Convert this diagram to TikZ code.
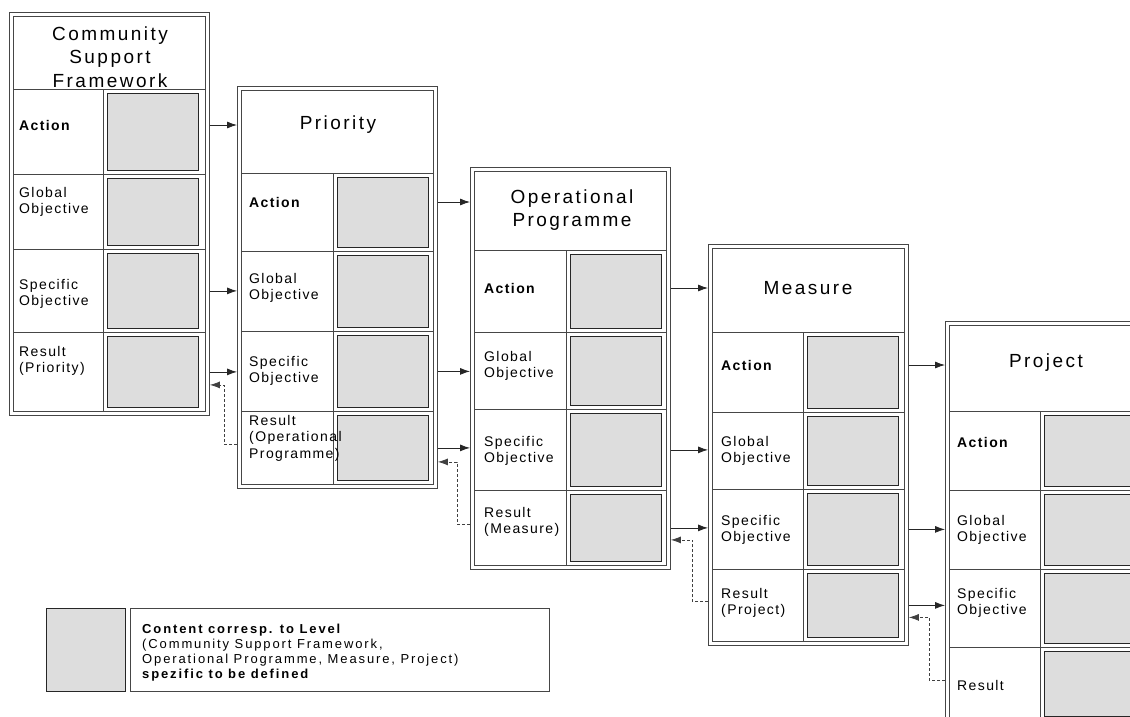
\documentclass[tikz,border=0pt]{standalone}
\usepackage{fontspec}
\setmainfont{Liberation Sans}
\newfontfamily\titlefont[LetterSpace=13]{Liberation Sans}
\newfontfamily\labelfont[LetterSpace=10]{Liberation Sans}
\newfontfamily\legendfont[LetterSpace=14.5]{Liberation Sans}
\usetikzlibrary{arrows.meta,calc}

\definecolor{cellgrey}{RGB}{221,221,221}
\definecolor{framegrey}{RGB}{70,70,70}

\tikzset{
  frameline/.style={draw=framegrey, line width=0.9pt},
  outerframe/.style={frameline, rectangle, inner sep=0pt, minimum width=200pt, anchor=north west},
  cell/.style={rectangle, draw=black!85, line width=0.8pt, fill=cellgrey, inner sep=0pt,
    minimum width=91pt, anchor=north west},
  leveltitle/.style={inner sep=0pt, align=center, font=\titlefont\fontsize{19}{23.5}\selectfont},
  rowlabel/.style={inner sep=0pt, anchor=west, align=left, font=\labelfont\fontsize{14}{16.5}\selectfont},
  flow/.style={draw=black!85, line width=0.8pt, -{Latex[length=10pt,width=7pt]}},
  back/.style={draw=black!75, line width=0.7pt, dash pattern=on 3pt off 2pt,
    -{Latex[length=10pt,width=7pt]}},
}

% #1 name, #2 left x, #3 top y, #4 bottom y, #5 header rule y,
% #6 #7 #8 row rules y, #9 column rule x
\newcommand\levelframe[9]{%
  \node[outerframe, minimum height={(#4)-(#3)}] (#1) at (#2,#3) {};
  \draw[frameline] ($(#1.north west)+(4,4)$) rectangle ($(#1.south east)+(-4,-4)$);
  \draw[frameline] (#2+4,#5) -- (#2+196,#5);
  \draw[frameline] (#2+4,#6) -- (#2+196,#6);
  \draw[frameline] (#2+4,#7) -- (#2+196,#7);
  \draw[frameline] (#2+4,#8) -- (#2+196,#8);
  \draw[frameline] (#9,#5) -- (#9,#4-4);
  \node[cell, minimum height={(#6)-(#5)-8}] (#1-a) at (#9+4,#5+4) {};
  \node[cell, minimum height={(#7)-(#6)-8}] (#1-g) at (#9+4,#6+4) {};
  \node[cell, minimum height={(#8)-(#7)-8}] (#1-s) at (#9+4,#7+4) {};
  \node[cell, minimum height={(#4)-(#8)-12}] (#1-r) at (#9+4,#8+4) {};
}

\begin{document}
\begin{tikzpicture}[x=1pt, y=-1pt]
\useasboundingbox (0,0) rectangle (1130,716);
\clip (0,0) rectangle (1130,716);

% the five planning levels
\levelframe{csf}{9}{12}{415}{89}{174}{249}{332}{103}
\levelframe{pri}{237}{86}{488}{173}{251}{331}{411}{333}
\levelframe{op}{470}{167}{569}{250}{332}{409}{490}{566}
\levelframe{mea}{708}{244}{645}{332}{412}{489}{569}{803}
\levelframe{prj}{945}{321}{724}{411}{490}{569}{647}{1040}

% level titles
\node[leveltitle] (csf-t) at (110,57) {Community\\Support\\Framework};
\node[leveltitle] (pri-t) at (338,125) {Priority};
\node[leveltitle] (op-t) at (572,210) {Operational\\Programme};
\node[leveltitle] (mea-t) at (808,288) {Measure};
\node[leveltitle] (prj-t) at (1046,363) {Project};

% row labels
\node[rowlabel] (csf-la) at (19,125) {\bfseries Action};
\node[rowlabel] (csf-lg) at (19,202) {Global\\Objective};
\node[rowlabel] (csf-ls) at (19,294) {Specific\\Objective};
\node[rowlabel] (csf-lr) at (19,361) {Result\\(Priority)};

\node[rowlabel] (pri-la) at (249,202) {\bfseries Action};
\node[rowlabel] (pri-lg) at (249,288) {Global\\Objective};
\node[rowlabel] (pri-ls) at (249,371) {Specific\\Objective};
\node[rowlabel] (pri-lr) at (249,438) {Result\\(Operational\\Programme)};

\node[rowlabel] (op-la) at (484,288) {\bfseries Action};
\node[rowlabel] (op-lg) at (484,366) {Global\\Objective};
\node[rowlabel] (op-ls) at (484,451) {Specific\\Objective};
\node[rowlabel] (op-lr) at (484,522) {Result\\(Measure)};

\node[rowlabel] (mea-la) at (721,365) {\bfseries Action};
\node[rowlabel] (mea-lg) at (721,451) {Global\\Objective};
\node[rowlabel] (mea-ls) at (721,530) {Specific\\Objective};
\node[rowlabel] (mea-lr) at (721,603) {Result\\(Project)};

\node[rowlabel] (prj-la) at (957,442) {\bfseries Action};
\node[rowlabel] (prj-lg) at (957,530) {Global\\Objective};
\node[rowlabel] (prj-ls) at (957,603) {Specific\\Objective};
\node[rowlabel] (prj-lr) at (957,685) {Result};

% downward links: action, specific objective and result feed the next level
\draw[flow] (csf-la -| csf.east) -- (csf-la -| pri.west);
\draw[flow] (csf-s -| csf.east) -- (csf-s -| pri.west);
\draw[flow] (csf-r -| csf.east) -- (csf-r -| pri.west);

\draw[flow] (pri-la -| pri.east) -- (pri-la -| op.west);
\draw[flow] (pri-s -| pri.east) -- (pri-s -| op.west);
\draw[flow] (pri-r -| pri.east) -- (pri-r -| op.west);

\draw[flow] (op-la -| op.east) -- (op-la -| mea.west);
\draw[flow] (op-s -| op.east) -- (op-s -| mea.west);
\draw[flow] (op-r -| op.east) -- (op-r -| mea.west);

\draw[flow] (mea-la -| mea.east) -- (mea-la -| prj.west);
\draw[flow] (mea-s -| mea.east) -- (mea-s -| prj.west);
\draw[flow] (mea-r -| mea.east) -- (mea-r -| prj.west);

% results reported back up one level
\draw[back] ($(pri-r -| pri.west)+(0,-4)$) -- ++(-13,0) |- ($(csf-r -| csf.east)+(0,13)$);
\draw[back] ($(op-r -| op.west)+(0,-4)$) -- ++(-13,0) |- ($(pri-r -| pri.east)+(0,14)$);
\draw[back] ($(mea-r -| mea.west)+(0,-4)$) -- ++(-16,0) |- ($(op-r -| op.east)+(0,12)$);
\draw[back] ($(prj-r -| prj.west)+(0,-4)$) -- ++(-16,0) |- ($(mea-r -| mea.east)+(0,12)$);

% key
\node[cell, minimum width=79pt, minimum height=83pt] (key) at (46,608) {};
\node[frameline, rectangle, inner sep=0pt, minimum width=419pt, minimum height=83pt,
  anchor=north west] (keybox) at (130,608) {};
\node[inner sep=0pt, anchor=north west, align=left,
  font=\legendfont\fontsize{13}{15.2}\selectfont] (keytext) at (142,623.5)
  {\bfseries Content corresp. to Level\\
   (Community Support Framework,\\
   Operational Programme, Measure, Project)\\
   \bfseries spezific to be defined};
\end{tikzpicture}
\end{document}
